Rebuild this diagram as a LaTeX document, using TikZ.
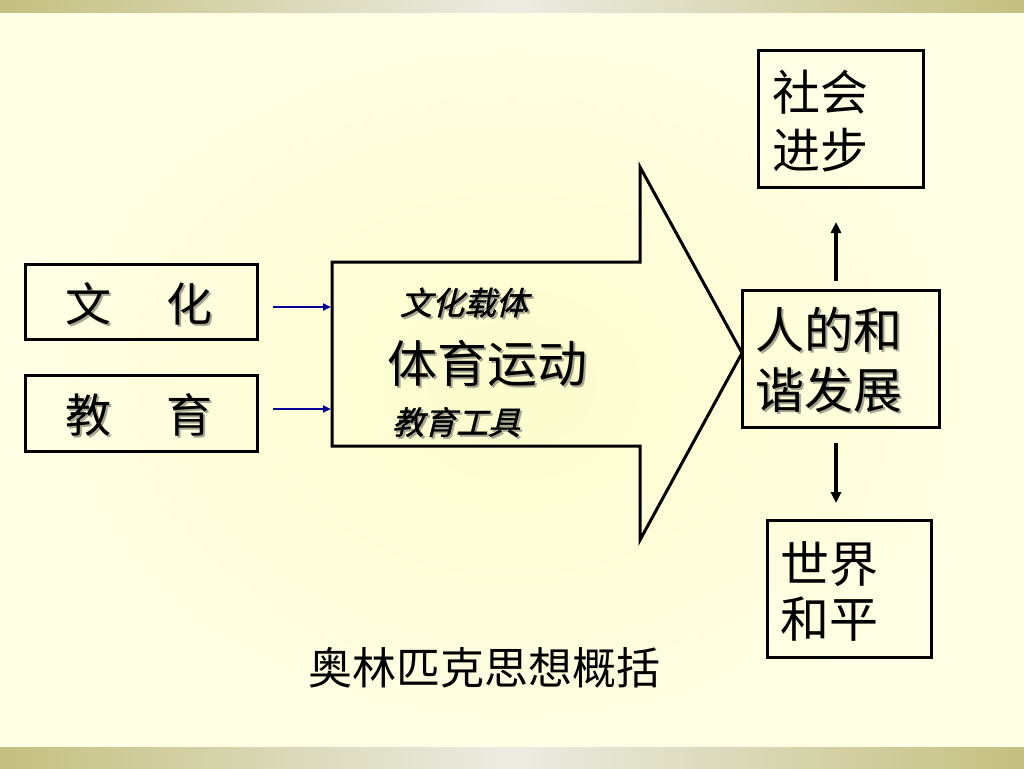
\documentclass[tikz,border=0pt]{standalone}
\usepackage{fontspec}
\newfontfamily\cjk{Noto Sans CJK SC}
\newfontfamily\cjkit{Noto Sans CJK SC}[FakeSlant=0.25,FakeBold=1.2]
\usetikzlibrary{arrows.meta}
\definecolor{bgin}{RGB}{253,252,204}
\definecolor{bgout}{RGB}{255,255,230}
\definecolor{bandedge}{RGB}{196,192,128}
\definecolor{bandmid}{RGB}{236,236,228}
\definecolor{navyline}{RGB}{0,0,150}
\definecolor{shadowgray}{RGB}{165,165,145}
\tikzset{
  box/.style={draw=black, line width=3pt, inner sep=0pt},
  txtbig/.style={font=\cjk\fontsize{46}{58}\selectfont, inner sep=0pt},
  txtright/.style={font=\cjk\fontsize{48}{58}\selectfont, inner sep=0pt, align=left},
  txthx/.style={font=\cjk\fontsize{49}{60}\selectfont, inner sep=0pt, align=left},
  txtit/.style={font=\cjkit\fontsize{32}{36}\selectfont, inner sep=0pt},
  txtmain/.style={font=\cjk\fontsize{50}{56}\selectfont, inner sep=0pt},
  txttitle/.style={font=\cjk\fontsize{44}{50}\selectfont, inner sep=0pt},
  shadowtxt/.style={text=shadowgray},
  bluearrow/.style={draw=navyline, line width=2.4pt, -{Triangle[length=8pt,width=7pt]}},
  blackarrow/.style={draw=black, line width=3.4pt, -{Triangle[length=11pt,width=10pt]}},
  bigarrow/.style={draw=black, line width=3pt, line join=miter}
}
\begin{document}
\begin{tikzpicture}[x=1pt,y=-1pt]
\useasboundingbox (0,0) rectangle (1024,768);
% background
\shade[inner color=bgin, outer color=bgout] (0,0) rectangle (1024,768);
\shade[left color=bandedge, right color=bandedge, middle color=bandmid] (0,0) rectangle (1024,13);
\shade[left color=bandedge, right color=bandedge, middle color=bandmid] (0,747) rectangle (1024,768);

% big arrow
\draw[bigarrow] (332,262) -- (640,262) -- (640,167) -- (742,353) -- (640,540) -- (640,446) -- (332,446) -- cycle;
\coordinate (arrL1) at (331,307);
\coordinate (arrL2) at (331,409);

% left boxes
\node[txtbig, shadowtxt] at (141,306) {文\hspace{56pt}化};
\node[box, minimum width=232pt, minimum height=75pt] (wh) at (141,301.5) {};
\node[txtbig] (whT) at (139,304) {文\hspace{56pt}化};

\node[txtbig, shadowtxt] at (141,417) {教\hspace{56pt}育};
\node[box, minimum width=232pt, minimum height=76pt] (jy) at (141,413) {};
\node[txtbig] (jyT) at (139,415) {教\hspace{56pt}育};

\coordinate (b1s) at (273,307);
\coordinate (b2s) at (273,409);
\draw[bluearrow] (b1s) -- (arrL1);
\draw[bluearrow] (b2s) -- (arrL2);

% arrow texts
\node[txtit, shadowtxt] at (466,304.5) {文化载体};
\node[txtit] (t1) at (464,302.5) {文化载体};
\node[txtmain, shadowtxt] at (489,365) {体育运动};
\node[txtmain] (t2) at (487,363) {体育运动};
\node[txtit, shadowtxt] at (458,424) {教育工具};
\node[txtit] (t3) at (456,422) {教育工具};

% right boxes
\node[box, minimum width=165pt, minimum height=136pt] (sh) at (840.5,119) {};
\node[txtright] (shT) at (820,121) {社会\\进步};

\node[txthx, shadowtxt] at (831,362) {人的和\\谐发展};
\node[box, minimum width=197pt, minimum height=137pt] (hx) at (840.5,358.5) {};
\node[txthx] (hxT) at (829,360) {人的和\\谐发展};

\node[box, minimum width=164pt, minimum height=137pt] (sj) at (849,588.5) {};
\node[font=\cjk\fontsize{49}{55}\selectfont, inner sep=0pt, align=left] (sjT) at (829,591) {世界\\和平};

\coordinate (upS) at (836,281);
\coordinate (upE) at (836,222);
\coordinate (dnS) at (836,443);
\coordinate (dnE) at (836,503);
\draw[blackarrow] (upS) -- (upE);
\draw[blackarrow] (dnS) -- (dnE);

% title
\node[txttitle] (title) at (484,668) {奥林匹克思想概括};
\end{tikzpicture}
\end{document}
